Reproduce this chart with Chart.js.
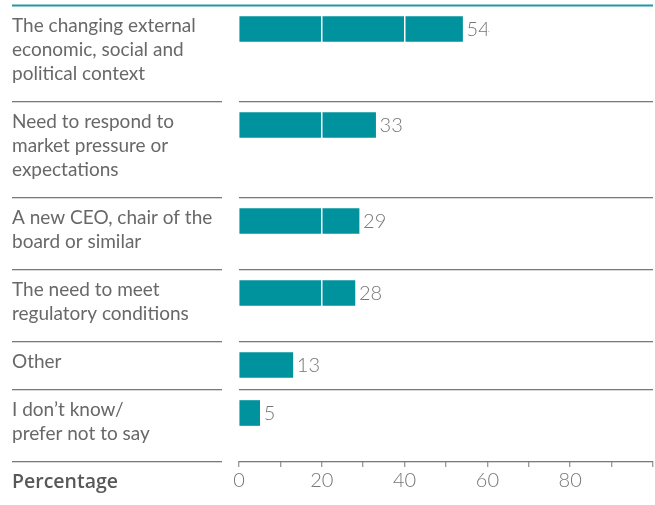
<!DOCTYPE html>
<html>
<head>
<meta charset="utf-8">
<script src="https://cdn.jsdelivr.net/npm/chart.js@4"></script>
<style>
  html, body { margin: 0; padding: 0; background: #fff; }
  #wrap { width: 655px; height: 505px; position: relative; }
</style>
</head>
<body>
<div id="wrap"><canvas id="c" width="655" height="505"></canvas></div>
<script>
// ---- data ----
const categories = [
  ["The changing external", "economic, social and", "political context"],
  ["Need to respond to", "market pressure or", "expectations"],
  ["A new CEO, chair of the", "board or similar"],
  ["The need to meet", "regulatory conditions"],
  ["Other"],
  ["I don\u2019t know/", "prefer not to say"]
];
const values = [54, 33, 29, 28, 13, 5];
const tickLabels = ["0", "20", "40", "60", "80"];
const axisTitle = "Percentage";

// ---- derived layout (row heights follow the number of label lines) ----
const rowUnits = categories.map(c => c.length + 1);
const rowStarts = [];
let acc = 0;
rowUnits.forEach(u => { rowStarts.push(acc); acc += u; });
const totalUnits = acc;
const points = values.map((v, i) => ({ x: v, y: rowStarts[i] + 1 }));

const TEXT = '#686868';
const TEAL = '#00939e';
const FONT = 'Lato, "Open Sans", sans-serif';

const decor = {
  id: 'decor',
  afterDraw(chart) {
    const { ctx, chartArea, scales } = chart;
    const y = scales.y;
    ctx.save();
    // top teal line
    ctx.fillStyle = '#8fcdd2';
    ctx.fillRect(12, chartArea.top - 1, chartArea.right - 12, 1);
    ctx.fillStyle = '#1f9aa3';
    ctx.fillRect(12, chartArea.top, chartArea.right - 12, 1.5);
    // separators
    ctx.fillStyle = '#7a7a7a';
    for (let i = 1; i <= categories.length; i++) {
      const v = i < categories.length ? rowStarts[i] : totalUnits;
      const py = Math.round(y.getPixelForValue(v));
      ctx.fillRect(12, py, 222 - 12, 1.3);
      ctx.fillRect(chartArea.left, py, chartArea.right - chartArea.left, 1.3);
    }
    // category labels
    ctx.fillStyle = TEXT;
    ctx.font = '400 19px ' + FONT;
    ctx.textBaseline = 'alphabetic';
    ctx.textAlign = 'left';
    categories.forEach((lines, i) => {
      const top = y.getPixelForValue(rowStarts[i]);
      lines.forEach((ln, j) => {
        ctx.fillText(ln, 12, top + 27 + j * 24);
      });
    });
    // axis title
    ctx.fillStyle = '#585858';
    ctx.font = '600 19.5px "Open Sans", Lato, sans-serif';
    ctx.textBaseline = 'middle';
    ctx.fillText(axisTitle, 12, chartArea.bottom + 21);
    ctx.restore();
  },
  afterDatasetsDraw(chart) {
    const { ctx } = chart;
    const meta = chart.getDatasetMeta(0);
    ctx.save();
    ctx.fillStyle = '#777';
    ctx.font = '300 20px ' + FONT;
    ctx.textBaseline = 'middle';
    ctx.textAlign = 'left';
    meta.data.forEach((bar, i) => {
      ctx.fillText(String(values[i]), bar.x + 4, bar.y + 1);
    });
    ctx.restore();
  }
};

new Chart(document.getElementById('c'), {
  type: 'bar',
  data: {
    datasets: [{
      data: points,
      backgroundColor: TEAL,
      borderWidth: 0,
      barThickness: 25
    }]
  },
  options: {
    indexAxis: 'y',
    responsive: false,
    animation: false,
    layout: { padding: { left: 239, top: 5, right: 0, bottom: 0 } },
    plugins: { legend: { display: false }, tooltip: { enabled: false } },
    scales: {
      y: {
        type: 'linear',
        min: 0,
        max: totalUnits,
        reverse: true,
        offset: false,
        display: false
      },
      x: {
        type: 'linear',
        position: 'bottom',
        min: 0,
        max: 100,
        afterFit: s => { s.height = 44; },
        border: { display: false },
        grid: {
          z: 1,
          color: c => (c.tick && c.tick.value % 20 === 0 && c.tick.value > 0 && c.tick.value < 100) ? '#ffffff' : 'rgba(0,0,0,0)',
          lineWidth: 1.5,
          drawTicks: true,
          tickLength: 6,
          tickColor: '#7a7a7a',
          tickWidth: 1
        },
        ticks: {
          stepSize: 10,
          padding: 2,
          color: '#777',
          font: { family: FONT, size: 20, weight: '300' },
          maxRotation: 0,
          autoSkip: false,
          callback: v => (tickLabels.includes(String(v)) ? String(v) : '')
        }
      }
    }
  },
  plugins: [decor]
});
</script>
</body>
</html>
